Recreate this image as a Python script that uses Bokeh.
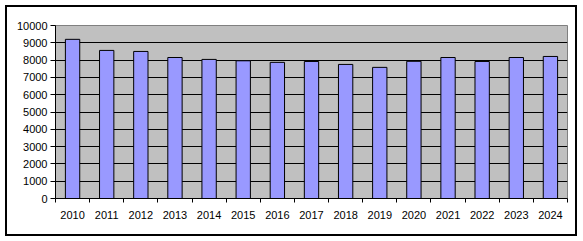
from bokeh.plotting import figure
from bokeh.models import FixedTicker, ColumnDataSource
from bokeh.embed import file_html
from bokeh.resources import INLINE

years = ["2010", "2011", "2012", "2013", "2014", "2015", "2016", "2017",
         "2018", "2019", "2020", "2021", "2022", "2023", "2024"]
values = [9200, 8560, 8500, 8150, 8040, 7960, 7870, 7920,
          7750, 7580, 7930, 8150, 7920, 8150, 8210]
y_ticks = list(range(0, 10001, 1000))

xpos = [i + 0.5 for i in range(len(years))]
src = ColumnDataSource(dict(x=xpos, top=values, year=years))

p = figure(width=568, height=227, output_backend="svg", toolbar_location=None,
           x_range=(0, len(years)), y_range=(0, 10000),
           min_border_left=48, min_border_right=8, min_border_top=18, min_border_bottom=36)
p.margin = (7, 0, 0, 7)
p.styles = {"outline": "2px solid black", "outline-offset": "0px"}
p.background_fill_color = "#C0C0C0"
p.border_fill_color = "white"
p.outline_line_color = "#808080"
p.outline_line_width = 1

p.vbar(x="x", top="top", width=0.42, bottom=0, source=src,
       fill_color="#9999FF", line_color="black", line_width=1)

p.xgrid.visible = False
p.ygrid.ticker = FixedTicker(ticks=y_ticks)
p.ygrid.grid_line_color = "black"
p.ygrid.grid_line_width = 1

p.yaxis.ticker = FixedTicker(ticks=y_ticks)
p.yaxis.major_tick_in = 0
p.yaxis.major_tick_out = 5
p.yaxis.minor_tick_line_color = None
p.yaxis.major_label_standoff = 3
p.yaxis.axis_line_color = "black"
p.yaxis.major_label_text_font = "Liberation Sans"
p.yaxis.major_label_text_font_size = "11px"
p.yaxis.major_label_text_color = "black"

p.xaxis.ticker = FixedTicker(ticks=xpos, minor_ticks=list(range(len(years) + 1)))
p.xaxis.major_label_overrides = {x: y for x, y in zip(xpos, years)}
p.xaxis.major_tick_line_color = None
p.xaxis.minor_tick_in = 0
p.xaxis.minor_tick_out = 4
p.xaxis.minor_tick_line_color = "black"
p.xaxis.major_label_standoff = 6
p.xaxis.axis_line_color = "black"
p.xaxis.major_label_text_font = "Liberation Sans"
p.xaxis.major_label_text_font_size = "11px"
p.xaxis.major_label_text_color = "black"

open("out.html", "w").write(file_html(p, INLINE))
